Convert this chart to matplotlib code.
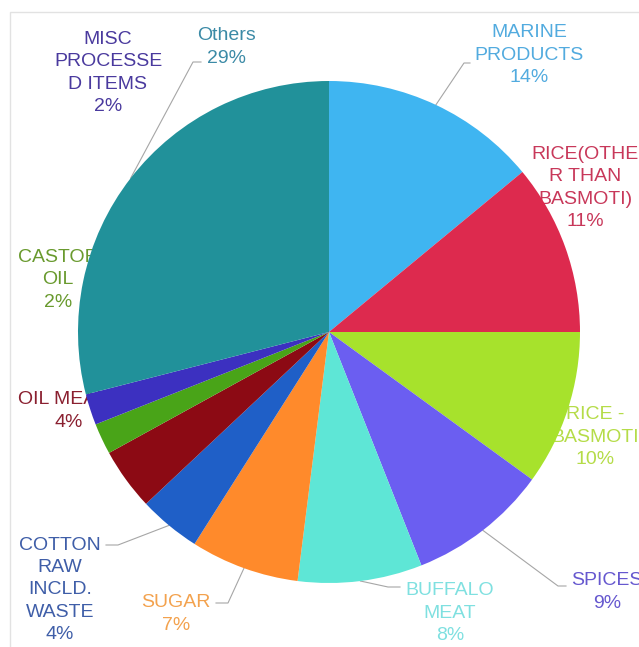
import matplotlib.pyplot as plt
import matplotlib.patches as mpatches
import numpy as np

plt.rcParams['font.family'] = ['Liberation Sans', 'DejaVu Sans']

labels = ['MARINE\nPRODUCTS', 'RICE(OTHE\nR THAN\nBASMOTI)', 'RICE -\nBASMOTI', 'SPICES',
          'BUFFALO\nMEAT', 'SUGAR', 'COTTON\nRAW\nINCLD.\nWASTE', 'OIL MEALS',
          'CASTOR\nOIL', 'MISC\nPROCESSE\nD ITEMS', 'Others']
shares = [14, 11, 10, 9, 8, 7, 4, 4, 2, 2, 29]
colors = ['#3fb5f1', '#dd2a4e', '#a7e22c', '#6b5ef1', '#5ee6d6', '#ff8a2b',
          '#1f5fc7', '#8c0a14', '#49a418', '#3c30c0', '#21919a']
text_colors = ['#52abdf', '#c8385a', '#b5dc48', '#6658cf', '#7fe0e0', '#f3a24e',
               '#3f5ea8', '#8a2030', '#699a2e', '#4a3a9e', '#3b8aa6']

# pie centre / radius in pixels
cx, cy, R = 329, 332, 251
W, H = 639, 647

# label centres (pixels) and leader lines (pixels, None = no leader)
label_px = [(529, 55), (585, 188), (595, 437), (607, 592), (450, 613), (176, 614),
            (60, 590), (69, 411), (58, 280), (108, 73), (227, 47)]
elbow_px = [(464, 63), None, None, (558, 586), (388, 587), (228, 603),
            (118, 545), None, None, None, (193, 62)]
start_px = [(470, 63), None, None, (566, 586), (400, 587), (216, 603),
            (106, 545), None, None, None, (201, 62)]


def to_data(p):
    return ((p[0] - cx) / R, (cy - p[1]) / R)


fig = plt.figure(figsize=(W / 100, H / 100), dpi=100)
ax = fig.add_axes([0, 0, 1, 1])

wedges, _ = ax.pie(shares, colors=colors, startangle=90, counterclock=False,
                   radius=1, wedgeprops=dict(linewidth=0, zorder=3))

ax.set_aspect('auto')
ax.set_xlim(-cx / R, (W - cx) / R)
ax.set_ylim((cy - H) / R, cy / R)
ax.axis('off')

for i, w in enumerate(wedges):
    lx, ly = to_data(label_px[i])
    ax.text(lx, ly, labels[i] + '\n' + str(shares[i]) + '%', ha='center', va='center',
            fontsize=14, color=text_colors[i], linespacing=1.42, zorder=2)
    if elbow_px[i] is not None:
        mid = np.deg2rad((w.theta1 + w.theta2) / 2)
        ex, ey = np.cos(mid), np.sin(mid)
        sx, sy = to_data(start_px[i])
        bx, by = to_data(elbow_px[i])
        ax.plot([sx, bx, ex], [sy, by, ey], color='#a6a6a6', lw=0.8, zorder=2)

# faint frame
fig.patches.append(mpatches.Rectangle((10 / W, -0.05), 1.1, 1 - 12 / H + 0.05,
                                      transform=fig.transFigure, fill=False,
                                      edgecolor='#e2e2e2', lw=1))

fig.savefig('out.png', dpi=100)
